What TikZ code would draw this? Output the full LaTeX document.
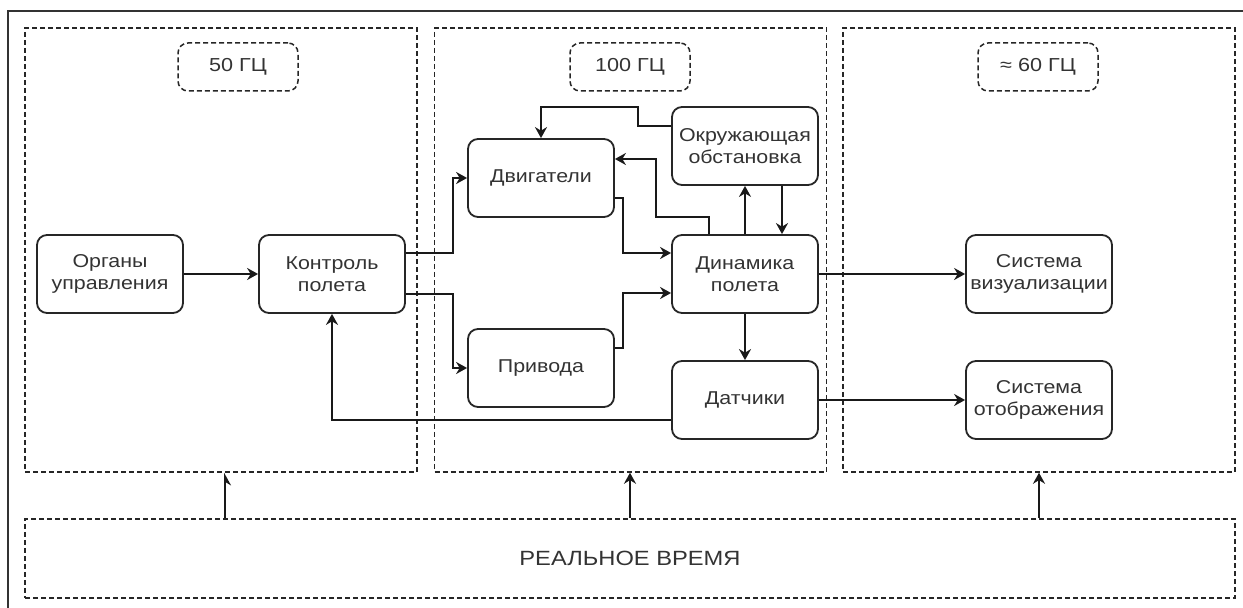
\documentclass[tikz,border=0pt]{standalone}
\usepackage{fontspec}
\setmainfont{Liberation Sans}[FakeStretch=1.15]
\usetikzlibrary{arrows.meta}

\begin{document}
\begin{tikzpicture}[x=0.5pt,y=-0.5pt,
  blok/.style={draw=black!85,line width=0.9pt,rounded corners=5pt,
    minimum width=73pt,minimum height=39pt,inner sep=1pt,align=center,
    font=\fontsize{9.3}{11}\selectfont,text=black!80},
  chastota/.style={draw=black!85,line width=0.75pt,dash pattern=on 2.5pt off 1.5pt,
    rounded corners=5pt,minimum width=60pt,minimum height=24pt,
    font=\fontsize{9.4}{11}\selectfont,text=black!80},
  zona/.style={draw=black!85,line width=0.75pt,dash pattern=on 2.5pt off 1.5pt,
    minimum width=196pt,minimum height=222pt,inner sep=0pt},
  strelka/.style={-{Stealth[length=5.5pt,width=6pt]},line width=0.9pt,black!90},
  polustrelka/.style={-{Stealth[length=5.5pt,width=6pt,right]},line width=0.9pt,black!90}]
  \useasboundingbox (0,0) rectangle (1243,608);
  % рамка (видны только левая и верхняя стороны)
  \draw[line width=0.8pt,black!80] (8,608) -- (8,11) -- (1243,11);
  % зоны частот
  \node[zona] (z1) at (221,250) {};
  \node[zona] (z2) at (630.5,250) {};
  \node[zona] (z3) at (1039,250) {};
  \node[chastota] (f1) at (238,67) {50 ГЦ};
  \node[chastota] (f2) at (630,67) {100 ГЦ};
  \node[chastota] (f3) at (1038,67) {≈ 60 ГЦ};
  \node[zona,minimum width=605pt,minimum height=39.5pt,
    font=\fontsize{10.3}{12}\selectfont,text=black!80] (rt) at (630,558.5) {РЕАЛЬНОЕ ВРЕМЯ};
  % блоки
  \node[blok] (org) at (110,274) {Органы\\управления};
  \node[blok] (ctrl) at (332,274) {Контроль\\полета};
  \node[blok] (eng) at (541,178) {Двигатели};
  \node[blok] (act) at (541,368) {Привода};
  \node[blok] (env) at (745,146) {Окружающая\\обстановка};
  \node[blok] (dyn) at (745,274) {Динамика\\полета};
  \node[blok] (sens) at (745,400) {Датчики};
  \node[blok] (vis) at (1039,274) {Система\\визуализации};
  \node[blok] (disp) at (1039,400) {Система\\отображения};
  % связи
  \draw[strelka] (org) -- (ctrl);
  \draw[strelka] ([yshift=10.5pt]ctrl.east) -- ++(47,0) |- (eng.west);
  \draw[strelka] ([yshift=-10pt]ctrl.east) -- ++(47,0) |- (act.west);
  \draw[strelka] ([yshift=-10pt]eng.east) -- ++(8,0) |- ([yshift=10.5pt]dyn.west);
  \draw[strelka] ([yshift=10pt]act.east) -- ++(8,0) |- ([yshift=-9.5pt]dyn.west);
  \draw[strelka] ([xshift=-18pt]dyn.north) -- ++(0,-17) -- ++(-53,0) |- ([yshift=9.5pt]eng.east);
  \draw[strelka] ([yshift=10pt]env.west) -- ++(-33,0) -- ++(0,-19) -| (eng.north);
  \draw[strelka] (dyn.north) -- (env.south);
  \draw[strelka] ([xshift=18.5pt]env.south) -- ([xshift=18.5pt]dyn.north);
  \draw[strelka] (dyn.south) -- (sens.north);
  \draw[strelka] ([yshift=-10pt]sens.west) -| (ctrl.south);
  \draw[strelka] (dyn.east) -- (vis.west);
  \draw[strelka] (sens.east) -- (disp.west);
  % реальное время -> зоны
  \draw[polustrelka] ([xshift=2pt]z1.south |- rt.north) -- ([xshift=2pt]z1.south);
  \draw[strelka] ([xshift=-0.25pt]z2.south |- rt.north) -- ([xshift=-0.25pt]z2.south);
  \draw[strelka] (z3.south |- rt.north) -- (z3.south);
\end{tikzpicture}
\end{document}
